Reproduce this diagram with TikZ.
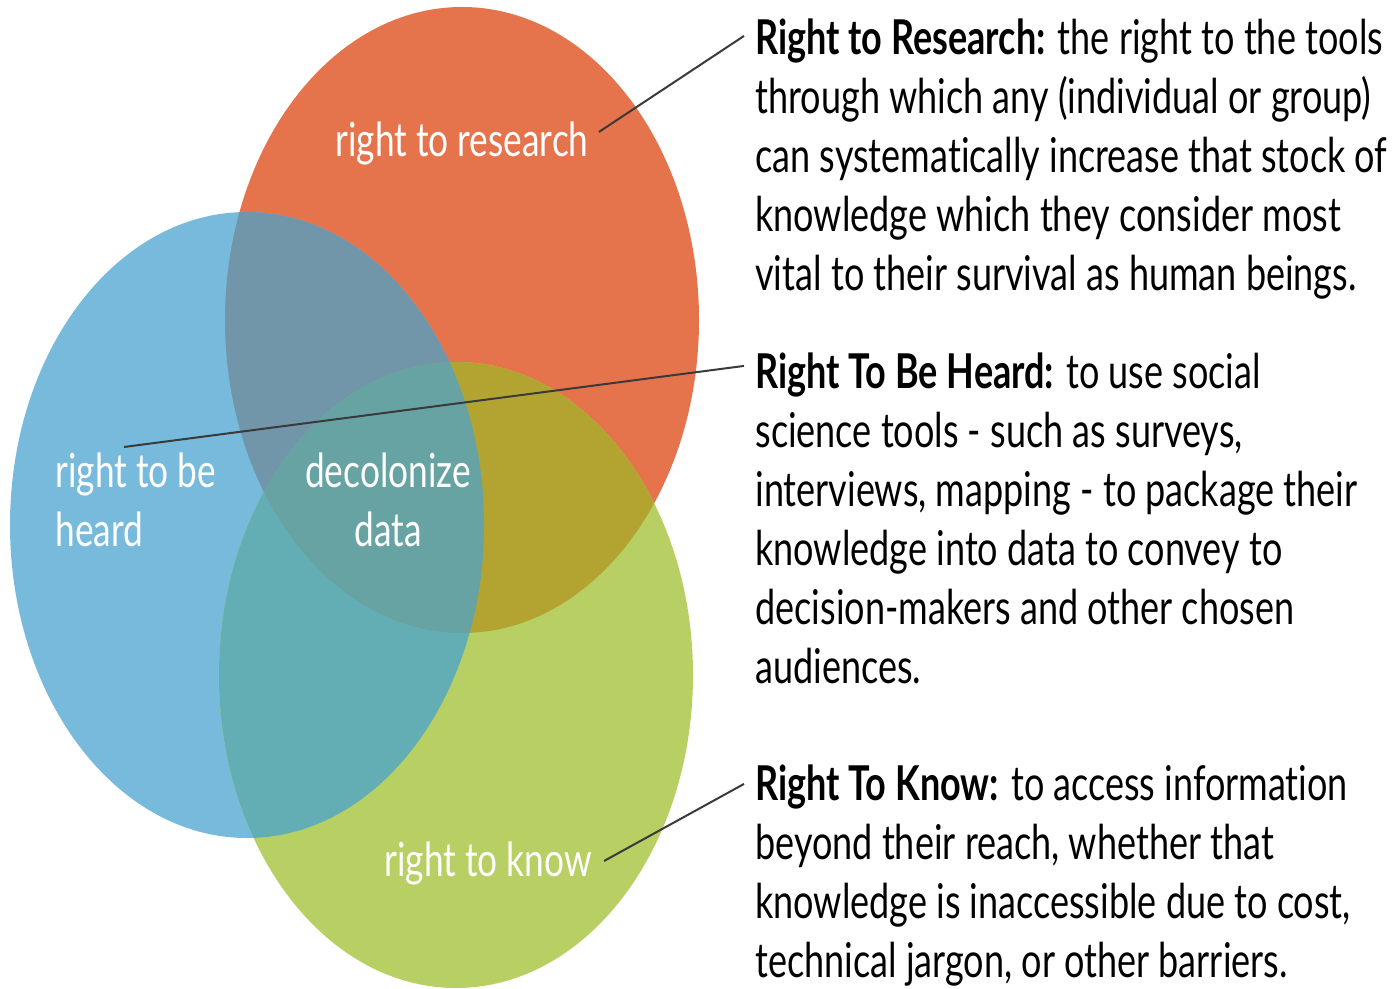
\documentclass[tikz,border=0pt]{standalone}
\usepackage{fontspec}
\setmainfont[FakeStretch=0.75, Ligatures=NoCommon]{Lato}
\usepackage{tikz}

\definecolor{rsorange}{HTML}{E5744C}
\definecolor{rsblue}{HTML}{78BADC}
\definecolor{rsgreen}{HTML}{B7CF63}
\definecolor{rsblueorange}{HTML}{7195A9}
\definecolor{rsorangegreen}{HTML}{B3A432}
\definecolor{rsbluegreen}{HTML}{63AEB4}
\definecolor{rsall}{HTML}{68A3A3}
\definecolor{leader}{HTML}{3A3A3A}

\tikzset{
  venntext/.style={text=white, inner sep=0pt, font=\fontsize{23.5}{29.5}\selectfont},
  desctext/.style={inner sep=0pt, align=left, anchor=base west, font=\fontsize{24}{29.5}\selectfont},
  leaderline/.style={draw=leader, line width=1pt}
}

\begin{document}
\begin{tikzpicture}[x=0.5pt, y=-0.5pt]
    \useasboundingbox (0, 0) rectangle (1396, 989);

    % the three sets
    \fill[rsorange] (462, 320) ellipse [x radius=237, y radius=313];
    \fill[rsblue]   (247, 525) ellipse [x radius=237, y radius=313];
    \fill[rsgreen]  (456, 675) ellipse [x radius=237, y radius=313];

    % overlaps of two sets
    \begin{scope}
      \clip (462, 320) ellipse [x radius=237, y radius=313];
      \fill[rsblueorange] (247, 525) ellipse [x radius=237, y radius=313];
      \fill[rsorangegreen] (456, 675) ellipse [x radius=237, y radius=313];
    \end{scope}
    \begin{scope}
      \clip (247, 525) ellipse [x radius=237, y radius=313];
      \fill[rsbluegreen] (456, 675) ellipse [x radius=237, y radius=313];
    \end{scope}

    % middle part shared by all three
    \begin{scope}
      \clip (462, 320) ellipse [x radius=237, y radius=313];
      \clip (247, 525) ellipse [x radius=237, y radius=313];
      \fill[rsall] (456, 675) ellipse [x radius=237, y radius=313];
    \end{scope}

    % set labels (base = baseline of the last line)
    \node[venntext, anchor=base] (research) at (462, 157) {right to research};
    \node[venntext, anchor=base west, align=left] (heard) at (55, 546) {right to be\\heard};
    \node[venntext, anchor=base, align=center] (decolonize) at (388, 546) {decolonize\\data};
    \node[venntext, anchor=base] (know) at (488, 876) {right to know};

    % descriptions
    \node[desctext] (researchtext) at (755, 291) {\textbf{Right to Research:} the right to the tools\\
      through which any (individual or group)\\
      can systematically increase that stock of\\
      knowledge which they consider most\\
      vital to their survival as human beings.};
    \node[desctext] (heardtext) at (755, 683) {\textbf{Right To Be Heard:} to use social\\
      science tools - such as surveys,\\
      interviews, mapping - to package their\\
      knowledge into data to convey to\\
      decision-makers and other chosen\\
      audiences.};
    \node[desctext] (knowtext) at (755, 977) {\textbf{Right To Know:} to access information\\
      beyond their reach, whether that\\
      knowledge is inaccessible due to cost,\\
      technical jargon, or other barriers.};

    % leader lines
    \draw[leaderline] ([xshift=5pt, yshift=6pt]research.east) -- ([xshift=-5.5pt, yshift=-8.5pt]researchtext.north west);
    \draw[leaderline] ([xshift=34.5pt, yshift=2.5pt]heard.north west) -- ([xshift=-5.5pt, yshift=-7pt]heardtext.north west);
    \draw[leaderline] ([xshift=6pt, yshift=1pt]know.east) -- ([xshift=-5.5pt, yshift=-10pt]knowtext.north west);

\end{tikzpicture}
\end{document}
